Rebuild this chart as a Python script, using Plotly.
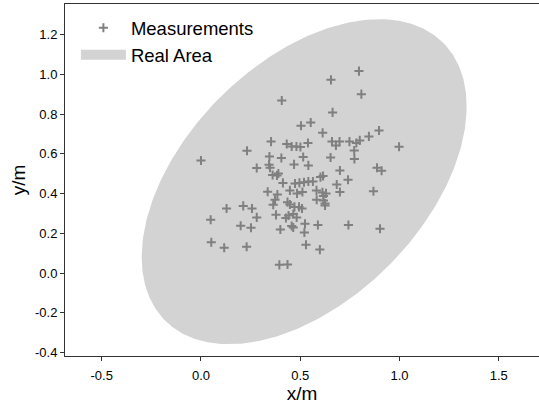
import numpy as np
import plotly.graph_objects as go

# Measured positions (metres)
meas_x = [0.796, 0.655, 0.808, 0.407, 0.663, 0.504, 0.553, 0.613, 0.897, 0.846,
          0.998, 0.660, 0.698, 0.680, 0.748, 0.800, 0.783, 0.772, 0.773, 0.539,
          0.432, 0.457, 0.481, 0.501, 0.353, 0.232, 0.000, 0.345, 0.405, 0.515,
          0.653, 0.281, 0.343, 0.348, 0.361, 0.383, 0.390, 0.413, 0.469, 0.541,
          0.700, 0.887, 0.910, 0.602, 0.615, 0.741, 0.474, 0.496, 0.519, 0.541,
          0.564, 0.684, 0.700, 0.869, 0.582, 0.612, 0.630, 0.617, 0.583, 0.617,
          0.625, 0.448, 0.484, 0.511, 0.336, 0.385, 0.373, 0.364, 0.436, 0.448,
          0.471, 0.494, 0.509, 0.129, 0.213, 0.257, 0.049, 0.281, 0.378, 0.428,
          0.441, 0.465, 0.482, 0.200, 0.252, 0.400, 0.457, 0.465, 0.524, 0.589,
          0.743, 0.625, 0.521, 0.529, 0.599, 0.902, 0.052, 0.117, 0.230, 0.395,
          0.436]
meas_y = [1.017, 0.973, 0.901, 0.869, 0.809, 0.742, 0.758, 0.706, 0.718, 0.688,
          0.636, 0.662, 0.662, 0.642, 0.662, 0.668, 0.655, 0.617, 0.574, 0.655,
          0.650, 0.637, 0.637, 0.635, 0.662, 0.616, 0.567, 0.587, 0.579, 0.584,
          0.582, 0.529, 0.545, 0.530, 0.494, 0.491, 0.501, 0.454, 0.547, 0.542,
          0.516, 0.530, 0.515, 0.483, 0.489, 0.470, 0.451, 0.454, 0.457, 0.461,
          0.461, 0.446, 0.408, 0.412, 0.416, 0.406, 0.401, 0.388, 0.369, 0.365,
          0.350, 0.416, 0.401, 0.408, 0.409, 0.395, 0.369, 0.344, 0.357, 0.345,
          0.333, 0.333, 0.325, 0.325, 0.338, 0.325, 0.268, 0.280, 0.293, 0.277,
          0.290, 0.297, 0.280, 0.238, 0.228, 0.219, 0.237, 0.229, 0.248, 0.242,
          0.242, 0.340, 0.204, 0.142, 0.118, 0.223, 0.155, 0.127, 0.132, 0.041,
          0.043]

# Real area: ellipse parameters (metres, degrees)
area_center_x = 0.52
area_center_y = 0.46
area_semi_major = 0.99
area_semi_minor = 0.60
area_angle_deg = 45.0

x_ticks = [-0.5, 0.0, 0.5, 1.0, 1.5]
x_tick_labels = ["-0.5", "0.0", "0.5", "1.0", "1.5"]
y_ticks = [-0.4, -0.2, 0.0, 0.2, 0.4, 0.6, 0.8, 1.0, 1.2]
y_tick_labels = ["-0.4", "-0.2", "0.0", "0.2", "0.4", "0.6", "0.8", "1.0", "1.2"]

t = np.linspace(0, 2 * np.pi, 361)
th = np.deg2rad(area_angle_deg)
ex = area_center_x + area_semi_major * np.cos(t) * np.cos(th) - area_semi_minor * np.sin(t) * np.sin(th)
ey = area_center_y + area_semi_major * np.cos(t) * np.sin(th) + area_semi_minor * np.sin(t) * np.cos(th)

FONT = "Arial, Liberation Sans, sans-serif"
AREA_COLOR = "#d3d3d3"
MARK_COLOR = "#808080"

fig = go.Figure()
fig.add_trace(go.Scatter(
    x=ex, y=ey, mode="lines", fill="toself",
    fillcolor=AREA_COLOR, line=dict(width=0, color=AREA_COLOR),
    name="Real Area", showlegend=False, hoverinfo="skip",
))
fig.add_trace(go.Scatter(
    x=meas_x, y=meas_y, mode="markers",
    marker=dict(symbol="cross-thin", size=6.5, line=dict(width=2, color=MARK_COLOR), color=MARK_COLOR),
    name="Measurements", legendrank=1,
))
# legend entry for the area (patch-like swatch)
fig.add_trace(go.Scatter(
    x=[None], y=[None], mode="lines",
    line=dict(width=14, color=AREA_COLOR),
    name="Real Area", legendrank=2,
))

axis_common = dict(
    showline=True, linecolor="#333333", linewidth=1,
    ticks="outside", ticklen=4, tickwidth=1, tickcolor="#333333",
    showgrid=False, zeroline=False,
    tickfont=dict(family=FONT, size=13, color="black"),
)

fig.update_layout(
    width=539, height=406,
    margin=dict(l=65, r=0, t=4, b=50),
    plot_bgcolor="white", paper_bgcolor="white",
    font=dict(family=FONT, color="black"),
    showlegend=True,
    legend=dict(
        x=0.023, y=0.985, xanchor="left", yanchor="top",
        bgcolor="rgba(0,0,0,0)", font=dict(family=FONT, size=18.5, color="black"),
        itemwidth=45, tracegroupgap=0,
    ),
    xaxis=dict(range=[-0.685, 1.703], tickvals=x_ticks, ticktext=x_tick_labels,
               ticklabelstandoff=3,
               title=dict(text="x/m", font=dict(family=FONT, size=19), standoff=3),
               mirror=True, **axis_common),
    yaxis=dict(range=[-0.418, 1.355], tickvals=y_ticks, ticktext=y_tick_labels,
               title=dict(text="y/m", font=dict(family=FONT, size=19), standoff=4),
               **axis_common),
)

fig.write_html("out.html")
